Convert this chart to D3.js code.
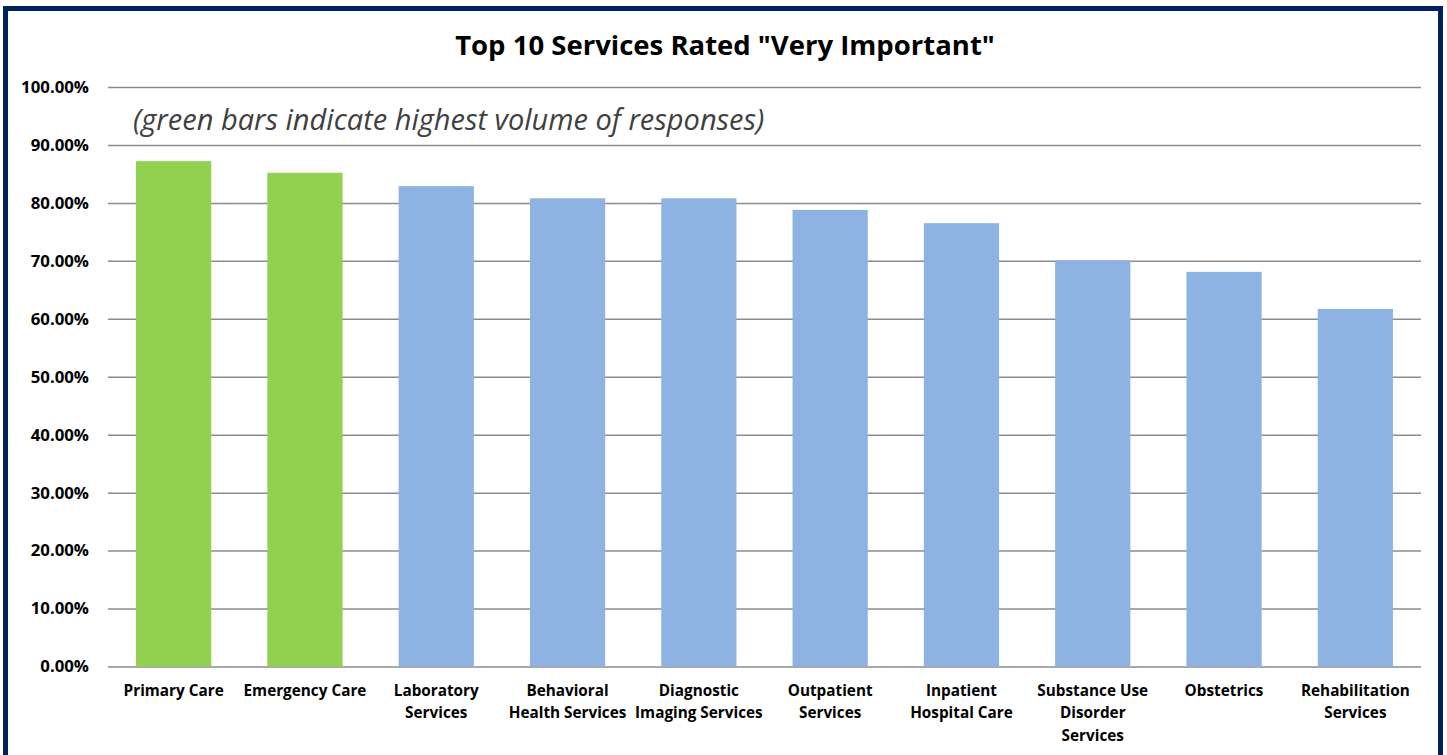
<!DOCTYPE html>
<html>
<head>
<meta charset="utf-8">
<script src="https://cdn.jsdelivr.net/npm/d3@7"></script>
<style>
  html, body { margin: 0; padding: 0; background: #fff; }
  svg { display: block; }
</style>
</head>
<body>
<svg id="chart" width="1447" height="755"></svg>
<script>
const categories = [
  ["Primary Care"],
  ["Emergency Care"],
  ["Laboratory", "Services"],
  ["Behavioral", "Health Services"],
  ["Diagnostic", "Imaging Services"],
  ["Outpatient", "Services"],
  ["Inpatient", "Hospital Care"],
  ["Substance Use", "Disorder", "Services"],
  ["Obstetrics"],
  ["Rehabilitation", "Services"]
];
const values = [0.872, 0.852, 0.829, 0.808, 0.808, 0.788, 0.765, 0.701, 0.681, 0.617];
const highVolume = [true, true, false, false, false, false, false, false, false, false];
const yTicks = [0, 0.1, 0.2, 0.3, 0.4, 0.5, 0.6, 0.7, 0.8, 0.9, 1.0];
const titleText = 'Top 10 Services Rated "Very Important"';
const noteText = "(green bars indicate highest volume of responses)";

const FONT = "'Open Sans', Lato, sans-serif";
const svg = d3.select("#chart");
const plot = { left: 108, right: 1421, top: 87, bottom: 666.5 };

// frame
svg.append("rect")
  .attr("x", 5.5).attr("y", 8.5)
  .attr("width", 1435).attr("height", 760)
  .attr("fill", "#fff")
  .attr("stroke", "#002060").attr("stroke-width", 5);

const x = d3.scaleBand()
  .domain(d3.range(categories.length))
  .range([plot.left, plot.right])
  .paddingInner(0.427).paddingOuter(0.2135);

const y = d3.scaleLinear().domain([0, 1]).range([plot.bottom, plot.top]);

// gridlines + y labels
const yAxis = d3.axisLeft(y)
  .tickValues(yTicks)
  .tickFormat(d3.format(".2%"))
  .tickSize(-(plot.right - plot.left))
  .tickPadding(19);

const gy = svg.append("g")
  .attr("transform", `translate(${plot.left},0)`)
  .call(yAxis);
gy.select(".domain").remove();
gy.selectAll(".tick line").attr("stroke", "#8c8c8c").attr("stroke-width", 1.5);
gy.selectAll(".tick text")
  .attr("fill", "#000")
  .style("font-family", FONT)
  .style("font-size", "16.8px")
  .style("font-weight", 700);

// bars
svg.append("g").selectAll("rect")
  .data(values)
  .join("rect")
  .attr("x", (d, i) => x(i))
  .attr("width", x.bandwidth())
  .attr("y", d => y(d))
  .attr("height", d => y(0) - y(d))
  .attr("fill", (d, i) => highVolume[i] ? "#92D050" : "#8EB3E2");

// x-axis category labels
const gx = svg.append("g")
  .attr("transform", `translate(0,${plot.bottom})`)
  .call(d3.axisBottom(x).tickSize(0).tickFormat(""));
gx.select(".domain").remove();
gx.selectAll(".tick").each(function(i) {
  const t = d3.select(this).append("text")
    .attr("text-anchor", "middle")
    .attr("fill", "#000")
    .style("font-family", FONT)
    .style("font-size", "15.3px")
    .style("font-weight", 700);
  categories[i].forEach((line, k) => {
    t.append("tspan").attr("x", 0).attr("y", 29 + k * 22.5).text(line);
  });
});

// title
svg.append("text")
  .attr("x", 725).attr("y", 55)
  .attr("text-anchor", "middle")
  .attr("fill", "#000")
  .style("font-family", FONT)
  .style("font-size", "27.5px")
  .style("font-weight", 700)
  .text(titleText);

// note
svg.append("text")
  .attr("x", 133).attr("y", 130)
  .attr("fill", "#404040")
  .style("font-family", FONT)
  .style("font-size", "29px")
  .style("font-style", "italic")
  .text(noteText);
</script>
</body>
</html>
